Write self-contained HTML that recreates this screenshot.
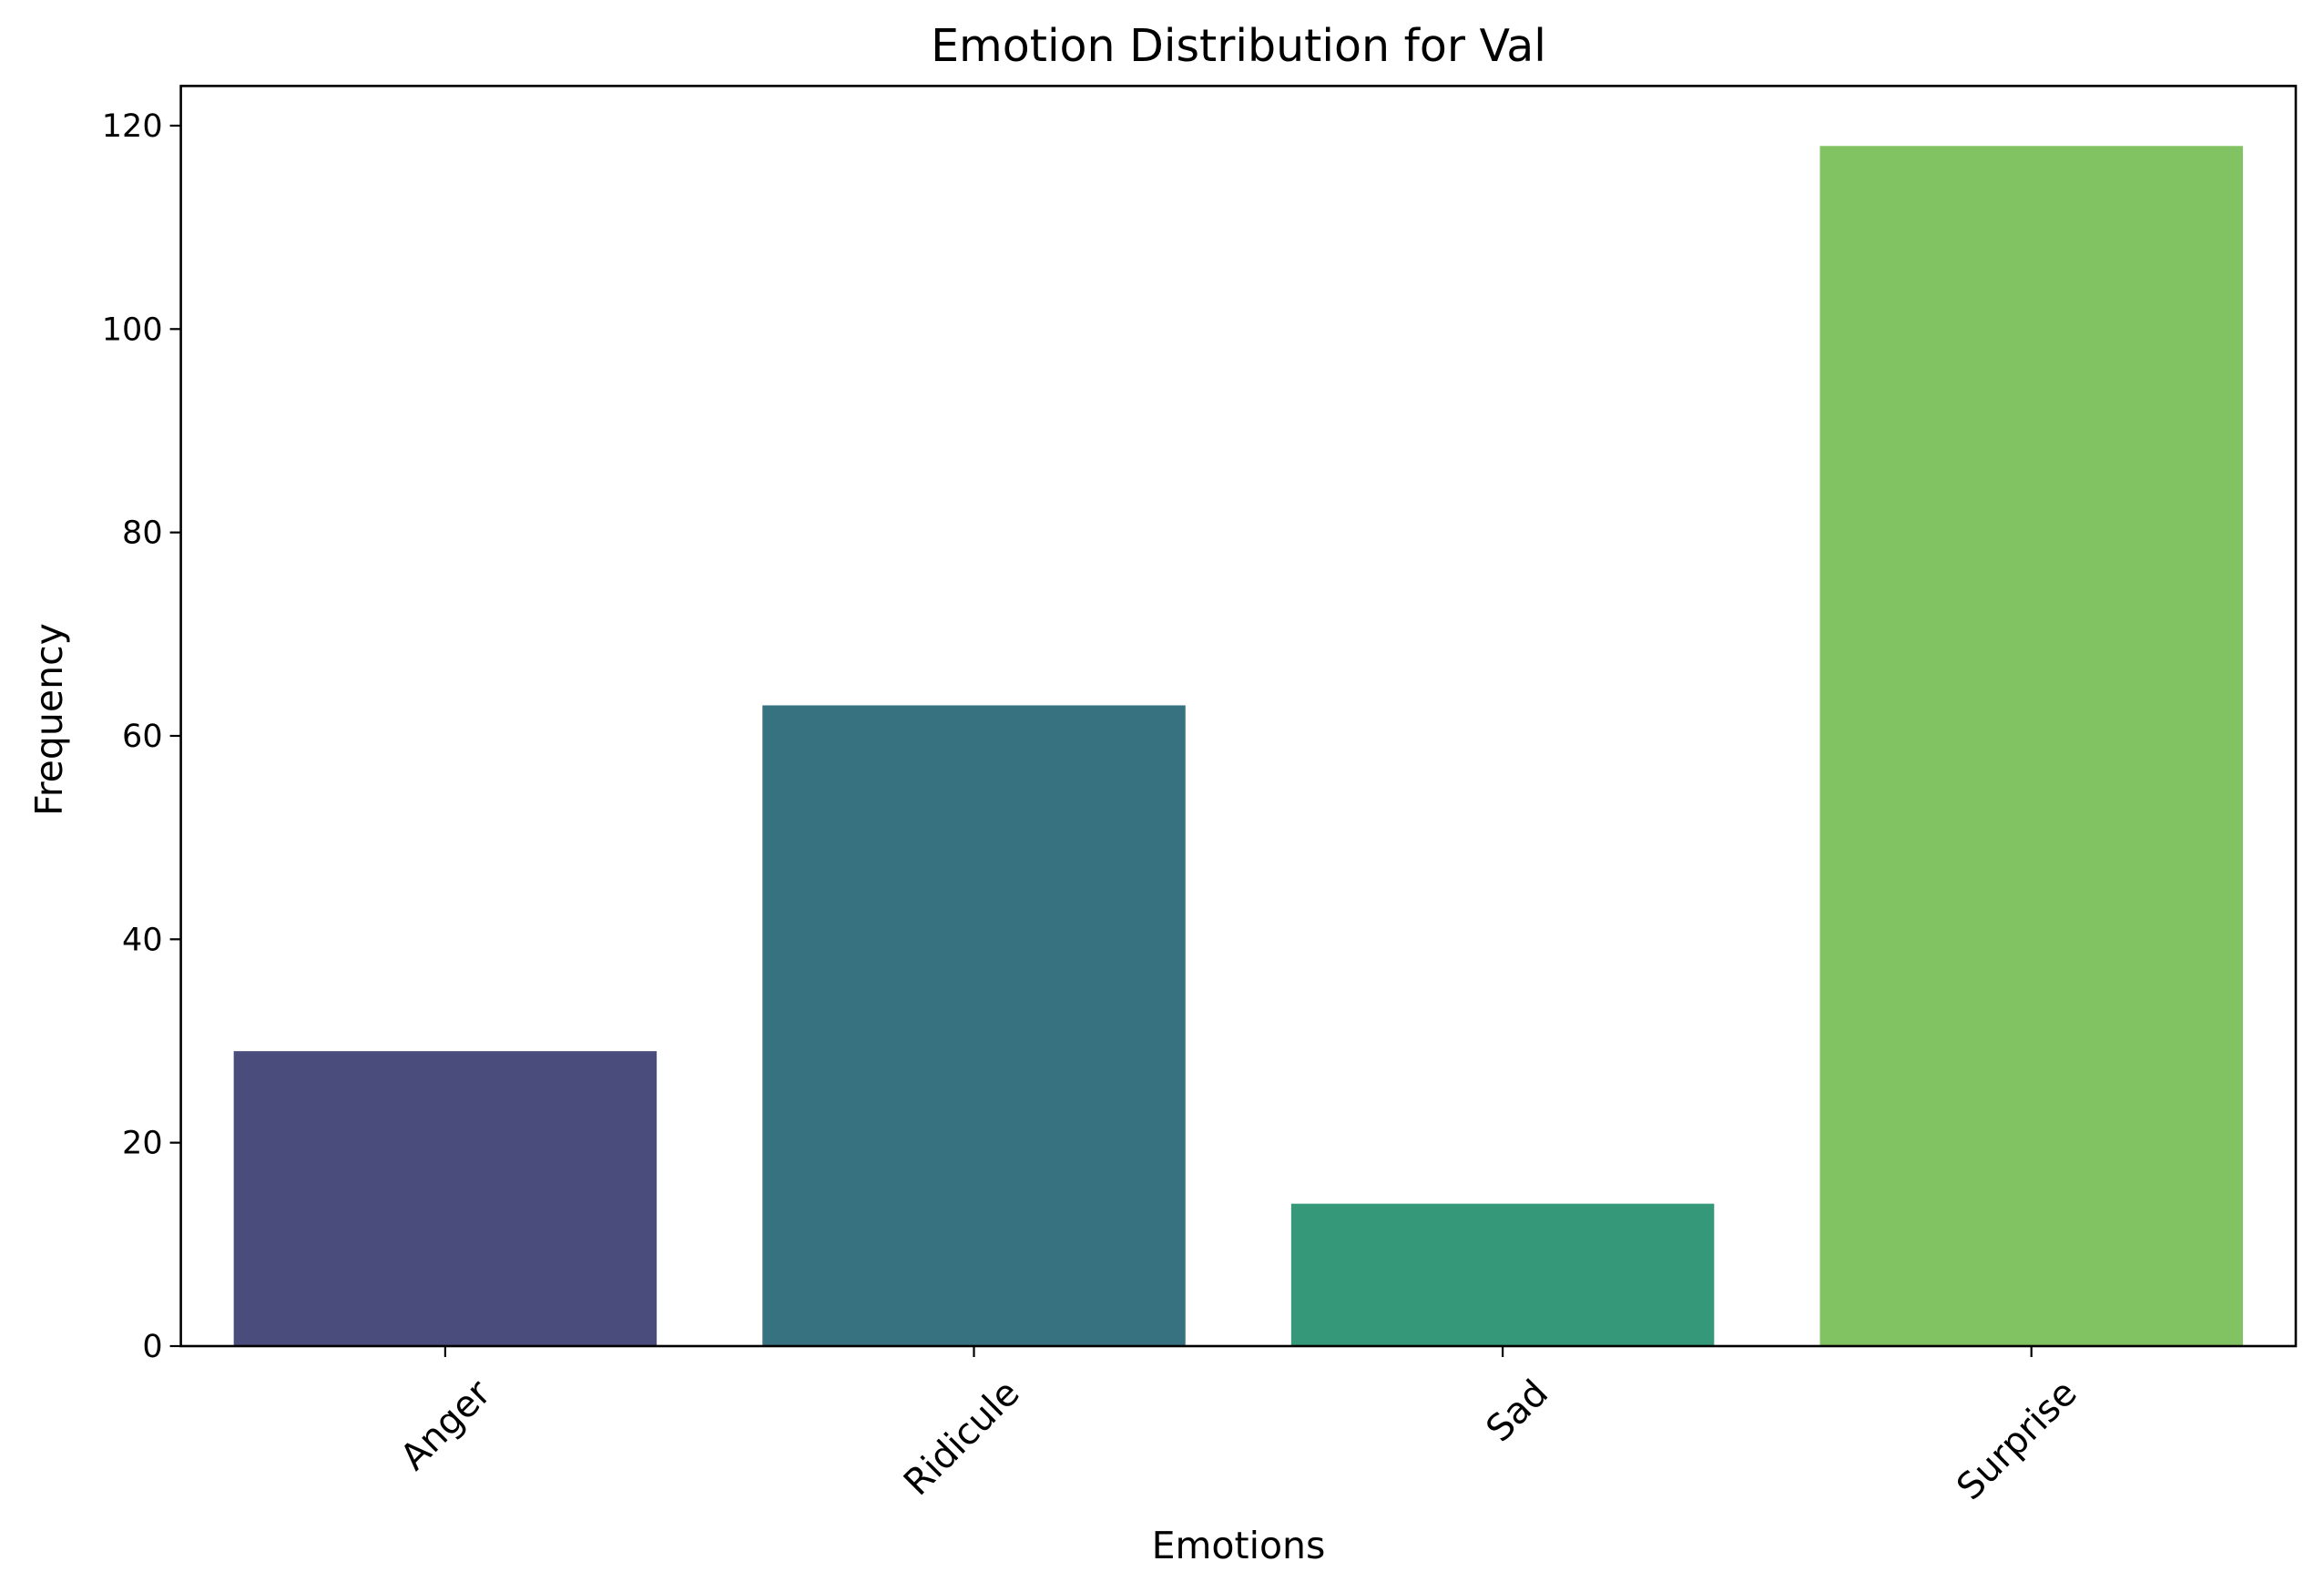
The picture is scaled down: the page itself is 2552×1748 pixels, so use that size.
<!DOCTYPE html>
<html><head><meta charset="utf-8"><style>
html,body{margin:0;padding:0;background:#fff;}
svg{display:block;font-family:"DejaVu Sans","Liberation Sans",sans-serif;}
</style></head><body>
<svg id="chart" width="2552" height="1748" viewBox="0 0 2552 1748" xmlns="http://www.w3.org/2000/svg">
<rect width="2552" height="1748" fill="#fff"/>
<text x="1360" y="67" font-size="49" text-anchor="middle">Emotion Distribution for Val</text>
<text x="1360" y="1711" font-size="41" text-anchor="middle">Emotions</text>
<text transform="translate(68,790) rotate(-90)" font-size="41" text-anchor="middle">Frequency</text>
<g id="bars"></g><g id="ticks"></g>
<rect x="198.6" y="94.4" width="2322.4" height="1383.6" fill="none" stroke="#000" stroke-width="2.6"/>
</svg>
<script>
const categories = ["Anger","Ridicule","Sad","Surprise"];
const values = [29,63,14,118];
const colors = ["#4a4c7c","#367280","#359879","#81c262"];
const yTicks = [0,20,40,60,80,100,120];
const L=198.6,R=2521,T=94.4,B=1478;
const ymax=Math.max(...values)*1.05;
const xs=i=>L+(i+0.5)*(R-L)/categories.length;
const ys=v=>B-v*(B-T)/ymax;
const NS="http://www.w3.org/2000/svg";
const bars=document.getElementById('bars'),ticks=document.getElementById('ticks');
const bw=0.8*(R-L)/categories.length;
categories.forEach((c,i)=>{
  const r=document.createElementNS(NS,'rect');
  
  
  r.setAttribute('x',xs(i)-bw/2);r.setAttribute('width',bw);
  r.setAttribute('y',ys(values[i]));r.setAttribute('height',B-ys(values[i]));
  r.setAttribute('fill',colors[i]);bars.appendChild(r);
  const t=document.createElementNS(NS,'line');
  
  
  t.setAttribute('x1',xs(i));t.setAttribute('x2',xs(i));t.setAttribute('y1',B);t.setAttribute('y2',B+12);
  t.setAttribute('stroke','#000');t.setAttribute('stroke-width','2.2');ticks.appendChild(t);
  const tx=document.createElementNS(NS,'text');
  
  
  tx.setAttribute('font-size','40');tx.setAttribute('text-anchor','end');
  tx.setAttribute('transform','translate('+(xs(i)+52)+','+(B+54)+') rotate(-45)');
  tx.textContent=c;ticks.appendChild(tx);
});
yTicks.forEach(v=>{
  const t=document.createElementNS(NS,'line');
  
  
  t.setAttribute('x1',L-12);t.setAttribute('x2',L);t.setAttribute('y1',ys(v));t.setAttribute('y2',ys(v));
  t.setAttribute('stroke','#000');t.setAttribute('stroke-width','2.2');ticks.appendChild(t);
  const tx=document.createElementNS(NS,'text');
  
  
  tx.setAttribute('font-size','35');tx.setAttribute('text-anchor','end');
  tx.setAttribute('x',L-20);tx.setAttribute('y',ys(v)+12);
  tx.textContent=v;ticks.appendChild(tx);
});
</script>
</body></html>
